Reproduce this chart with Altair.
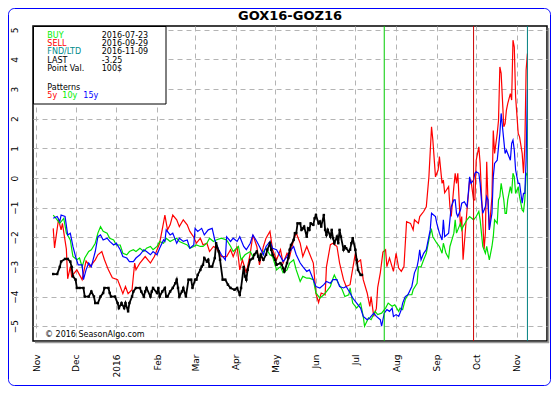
import altair as alt
import pandas as pd

# ---------------- data ----------------
TITLE = "GOX16-GOZ16"
SEASON_START = "2015-11-01"          # day 0 of the day offsets below
BUY_DATE = "2016-07-23"
SELL_DATE = "2016-09-29"
FND_DATE = "2016-11-09"
LAST_VALUE = "-3.25"
POINT_VALUE = "100$"
COPYRIGHT = "\u00a9 2016 SeasonAlgo.com"
MONTH_TICKS = ["2015-11-01", "2015-12-01", "2016-01-01", "2016-02-01", "2016-03-01",
               "2016-04-01", "2016-05-01", "2016-06-01", "2016-07-01", "2016-08-01",
               "2016-09-01", "2016-10-01", "2016-11-01"]
Y_TICKS = [-5, -4, -3, -2, -1, 0, 1, 2, 3, 4, 5]

RED_DAYS = [13, 14, 17, 19, 20, 23, 24, 26, 27, 31, 35, 36, 38, 41, 45, 47, 50, 52, 55, 58, 62, 64, 66, 68, 70, 73, 75, 76, 79, 83, 87, 90, 94, 97, 98, 100, 102, 104, 107, 109, 112, 115, 117, 120, 122, 125, 127, 130, 132, 135, 137, 141, 145, 148, 150, 153, 155, 157, 160, 163, 165, 168, 170, 173, 175, 178, 180, 183, 186, 188, 191, 193, 196, 198, 201, 203, 206, 208, 211, 213, 215, 217, 220, 221, 224, 226, 229, 231, 234, 236, 239, 240, 243, 244, 247, 249, 252, 254, 255, 257, 259, 260, 262, 264, 266, 267, 269, 272, 274, 276, 278, 280, 282, 285, 287, 288, 291, 292, 295, 297, 299, 301, 302, 304, 306, 307, 309, 310, 311, 314, 315, 316, 318, 319, 320, 321, 323, 324, 325, 326, 328, 330, 331, 333, 334, 335, 337, 338, 339, 341, 342, 343, 344, 345, 347, 348, 349, 351, 352, 353, 354, 356, 357, 358, 359, 361, 362, 363, 364, 365, 367, 368, 370, 371, 372, 373, 374]
RED_VALS = [-1.7, -2.36, -1.4, -1.75, -1.53, -2.4, -3.4, -3.0, -3.32, -3.1, -3.43, -3.21, -2.8, -2.99, -2.76, -2.59, -2.48, -2.76, -3.1, -3.37, -3.43, -3.66, -3.9, -3.66, -3.9, -3.77, -2.87, -3.1, -2.87, -2.65, -2.87, -2.65, -2.2, -1.5, -1.25, -1.75, -1.58, -1.25, -1.41, -1.64, -1.41, -1.58, -1.8, -2.0, -2.2, -2.03, -2.25, -2.2, -2.48, -2.31, -2.36, -2.65, -2.65, -2.42, -2.65, -2.31, -3.1, -2.76, -3.2, -2.54, -1.92, -2.31, -2.93, -2.31, -2.03, -1.8, -2.42, -2.76, -2.42, -2.87, -2.54, -2.65, -2.09, -1.86, -2.2, -2.65, -2.31, -2.54, -2.87, -3.9, -4.2, -3.88, -3.94, -3.0, -2.25, -2.2, -2.31, -2.87, -3.43, -3.66, -3.6, -3.32, -2.54, -2.87, -2.76, -3.43, -3.88, -4.33, -4.0, -4.67, -4.4, -3.7, -3.2, -2.5, -2.42, -2.99, -2.7, -3.15, -2.54, -3.04, -3.15, -2.99, -1.47, -1.53, -1.75, -1.41, -1.53, -1.3, -1.13, -0.97, 0.04, 1.73, 1.28, 0.04, 0.27, 0.72, -0.18, -0.07, -0.5, -0.29, -0.97, -1.3, -0.29, 0.16, -0.18, 0.16, -1.64, -1.3, -2.76, -2.2, -1.08, -0.07, -0.07, -0.74, -0.74, 0.6, 1.05, 0.49, -0.52, -2.4, -1.86, 0.55, -0.85, -1.75, -0.63, 1.6, 0.83, 1.5, 1.95, 3.75, 3.53, 1.73, 1.84, 2.29, 2.51, 2.85, 2.63, 4.65, 4.42, 2.74, 1.5, 1.39, 0.83, 0.16, 1.05, 3.64, 4.2]

GREEN_DAYS = [13, 16, 18, 21, 23, 26, 28, 31, 33, 35, 37, 40, 42, 45, 47, 49, 51, 54, 56, 59, 61, 64, 66, 69, 71, 74, 76, 79, 82, 84, 87, 89, 92, 94, 97, 99, 102, 104, 107, 109, 112, 115, 117, 120, 122, 125, 127, 130, 132, 135, 137, 141, 145, 148, 150, 154, 156, 159, 163, 165, 168, 170, 173, 175, 178, 180, 183, 186, 188, 191, 193, 196, 198, 201, 203, 206, 208, 211, 213, 216, 219, 221, 224, 226, 227, 230, 233, 235, 238, 239, 241, 244, 247, 249, 250, 253, 255, 258, 260, 263, 266, 268, 271, 273, 276, 277, 279, 281, 283, 286, 287, 290, 291, 293, 295, 297, 300, 301, 302, 305, 307, 309, 310, 312, 314, 315, 318, 319, 320, 321, 323, 324, 325, 328, 330, 333, 335, 337, 338, 339, 340, 342, 343, 344, 345, 347, 348, 349, 351, 352, 353, 354, 356, 357, 358, 359, 361, 362, 363, 364, 365, 367, 368, 370, 371, 372, 373, 374]
GREEN_VALS = [-1.25, -1.41, -1.53, -1.36, -1.86, -2.09, -2.65, -2.76, -2.7, -3.0, -2.7, -2.48, -2.42, -2.2, -1.86, -1.64, -1.8, -1.86, -2.03, -2.09, -2.26, -2.26, -2.54, -2.59, -2.48, -2.42, -2.48, -2.37, -2.48, -2.37, -2.31, -2.42, -2.31, -2.14, -2.2, -2.03, -2.14, -2.09, -2.03, -2.14, -2.2, -2.26, -2.37, -2.31, -2.26, -2.31, -2.31, -2.2, -2.03, -2.14, -2.09, -2.03, -2.09, -2.3, -2.48, -2.31, -2.76, -2.59, -2.48, -2.65, -2.48, -2.76, -2.48, -2.37, -2.59, -2.65, -3.1, -2.99, -3.2, -3.1, -2.87, -2.76, -3.1, -3.49, -3.32, -3.38, -3.38, -3.43, -3.88, -4.05, -3.94, -3.83, -3.66, -3.38, -3.27, -3.55, -3.77, -4.0, -3.94, -3.71, -4.22, -4.39, -4.22, -4.67, -5.0, -4.72, -4.78, -4.5, -4.61, -4.56, -4.39, -4.22, -4.33, -4.28, -4.5, -4.39, -4.44, -4.1, -3.94, -3.94, -3.77, -3.55, -3.0, -3.0, -2.76, -2.54, -1.86, -1.75, -1.98, -2.2, -2.31, -2.54, -2.2, -2.54, -2.7, -2.31, -1.86, -1.41, -1.86, -1.75, -1.53, -1.75, -1.64, -1.41, -1.3, -1.41, -1.3, -1.13, -1.41, -1.86, -2.31, -2.54, -2.31, -2.54, -2.76, -2.31, -1.98, -1.41, -1.53, -0.74, -0.63, -0.18, -0.74, -1.19, -1.19, -0.74, -0.29, -0.52, 0.16, 0.04, -0.52, -0.29, -0.63, -1.08, -1.13, -0.74, 0.16, 0.1]

BLUE_DAYS = [13, 16, 18, 19, 22, 24, 26, 28, 30, 32, 35, 36, 38, 40, 42, 45, 47, 49, 51, 54, 56, 59, 61, 64, 66, 69, 71, 74, 76, 79, 82, 84, 87, 89, 92, 94, 97, 98, 99, 102, 104, 107, 109, 112, 115, 117, 120, 121, 123, 126, 128, 131, 134, 136, 139, 141, 144, 145, 148, 150, 153, 155, 158, 160, 163, 165, 168, 170, 173, 175, 178, 180, 183, 186, 188, 191, 193, 196, 198, 201, 203, 206, 208, 211, 213, 216, 219, 221, 224, 226, 229, 231, 234, 236, 239, 241, 244, 247, 249, 252, 254, 257, 259, 262, 263, 265, 267, 269, 271, 272, 274, 276, 278, 279, 281, 283, 286, 287, 288, 290, 291, 292, 293, 295, 297, 300, 301, 304, 305, 307, 309, 310, 311, 314, 315, 316, 318, 319, 320, 321, 323, 324, 326, 328, 329, 330, 331, 333, 334, 335, 337, 338, 339, 340, 342, 343, 344, 345, 347, 348, 349, 351, 352, 353, 354, 356, 357, 358, 359, 361, 362, 363, 364, 365, 367, 368, 370, 371, 372, 373, 374]
BLUE_VALS = [-1.36, -1.3, -1.47, -1.25, -1.3, -1.92, -1.86, -2.31, -2.65, -2.93, -2.93, -3.43, -3.1, -2.87, -2.99, -2.48, -1.98, -1.92, -2.09, -2.03, -2.14, -2.26, -2.2, -2.42, -2.65, -2.7, -2.82, -2.82, -2.7, -2.59, -2.42, -2.48, -2.59, -2.48, -2.59, -2.37, -2.09, -2.14, -1.75, -1.92, -1.86, -2.2, -2.03, -2.14, -2.09, -2.37, -2.26, -1.7, -1.8, -1.7, -1.92, -1.75, -1.7, -2.09, -2.42, -2.59, -2.76, -1.98, -2.14, -2.03, -2.14, -1.98, -2.31, -2.42, -2.2, -1.92, -2.14, -2.31, -2.59, -2.31, -2.14, -2.37, -2.42, -2.65, -2.82, -2.65, -2.48, -2.31, -2.59, -2.87, -2.99, -3.15, -3.1, -3.43, -3.66, -3.71, -3.6, -3.49, -3.55, -3.43, -3.43, -3.66, -3.71, -3.66, -3.88, -4.05, -4.22, -4.39, -4.67, -4.78, -4.72, -4.56, -4.67, -4.78, -5.0, -4.56, -4.44, -4.5, -4.39, -4.67, -4.61, -4.67, -4.44, -4.22, -4.0, -3.94, -3.66, -3.43, -3.2, -2.99, -2.76, -2.42, -2.76, -2.54, -2.42, -1.75, -1.19, -1.3, -1.53, -1.86, -2.09, -1.41, -1.98, -1.86, -1.41, -0.97, -0.74, -0.74, -1.19, -1.3, -1.08, -0.85, -0.8, -0.97, -0.52, 0.04, -0.18, -0.07, 0.16, 0.21, 0.16, -0.18, -0.74, -1.19, -0.97, -0.63, -0.74, -1.75, -1.19, 0.04, 0.49, 0.6, 1.05, 1.5, 2.18, 1.28, 0.83, 0.94, 0.83, 0.6, 1.17, 1.28, 0.94, 0.27, -0.18, -0.18, -0.85, -0.52, -0.52, 0.6, 3.0]

BLACK_DAYS = [13, 16, 18, 19, 22, 24, 26, 27, 28, 30, 31, 33, 36, 37, 40, 42, 44, 45, 47, 49, 51, 52, 55, 56, 57, 60, 62, 63, 65, 67, 68, 70, 71, 73, 74, 76, 79, 80, 82, 83, 84, 87, 88, 89, 92, 93, 94, 96, 98, 99, 100, 102, 104, 106, 107, 108, 109, 111, 112, 114, 116, 118, 119, 121, 122, 123, 125, 126, 127, 128, 130, 131, 132, 134, 136, 137, 139, 140, 142, 144, 146, 148, 151, 153, 155, 156, 158, 159, 160, 161, 163, 165, 166, 168, 169, 170, 171, 173, 175, 176, 178, 179, 180, 182, 183, 186, 187, 188, 189, 191, 192, 193, 194, 196, 197, 198, 199, 201, 202, 203, 204, 206, 207, 208, 209, 211, 212, 213, 215, 216, 217, 219, 220, 221, 222, 224, 225, 226, 227, 229, 230, 231, 232, 234, 235, 236, 238, 239, 240, 241, 243, 244, 245, 247, 248]
BLACK_VALS = [-3.24, -3.24, -3.0, -2.82, -2.73, -2.73, -2.82, -3.0, -3.32, -3.43, -3.71, -3.71, -3.71, -4.0, -4.0, -3.83, -4.0, -4.22, -4.22, -4.0, -3.88, -3.71, -3.71, -3.88, -4.0, -4.0, -4.22, -4.39, -4.22, -4.39, -4.22, -4.5, -4.22, -4.0, -3.83, -3.71, -3.71, -3.83, -4.0, -3.83, -3.71, -4.0, -3.83, -3.71, -3.88, -3.71, -4.0, -3.83, -3.71, -4.0, -4.0, -3.83, -3.71, -3.55, -3.43, -3.71, -4.0, -3.83, -3.71, -4.0, -3.43, -3.43, -3.71, -3.43, -3.43, -3.27, -3.1, -2.99, -2.93, -2.7, -2.82, -2.76, -2.99, -2.99, -2.7, -2.2, -2.48, -2.76, -3.43, -3.43, -3.6, -3.71, -3.77, -3.71, -3.94, -3.71, -3.0, -3.32, -3.43, -3.1, -2.76, -2.71, -2.59, -2.48, -2.65, -2.76, -2.59, -2.76, -2.59, -2.42, -2.2, -2.42, -2.59, -2.76, -2.93, -2.87, -2.93, -3.04, -3.15, -2.87, -2.7, -2.42, -2.26, -2.09, -1.86, -1.86, -1.53, -1.53, -1.75, -1.7, -1.64, -1.98, -1.7, -1.75, -1.53, -1.58, -1.36, -1.25, -1.53, -1.47, -1.64, -1.25, -1.75, -1.92, -1.75, -1.98, -1.75, -2.03, -2.2, -1.98, -2.2, -1.75, -1.98, -2.42, -2.31, -2.37, -2.48, -2.42, -2.2, -2.03, -2.42, -2.76, -3.1, -3.27, -3.27]

# ---------------- build tables ----------------
def series_frame(days, vals):
    dates = pd.Timestamp(SEASON_START) + pd.to_timedelta(days, unit="D")
    return pd.DataFrame({"date": dates.strftime("%Y-%m-%d"), "value": vals})

red_df = series_frame(RED_DAYS, RED_VALS)
green_df = series_frame(GREEN_DAYS, GREEN_VALS)
blue_df = series_frame(BLUE_DAYS, BLUE_VALS)
black_df = series_frame(BLACK_DAYS, BLACK_VALS)
dummy = pd.DataFrame({"k": [0]})

W, H = 514, 315
PAD = {"left": 25, "top": 18, "right": 4, "bottom": 45}   # whole svg: 543 x 378
FONT = "DejaVu Sans"
GRID = "#b4b4b4"

def dt(s):
    t = pd.Timestamp(s)
    return alt.DateTime(year=t.year, month=t.month, date=t.day, hours=t.hour, minutes=t.minute, utc=True)

x_scale = alt.Scale(type="utc", domain=[dt("2015-10-29 14:24"), dt("2016-11-23 21:36")])
x_axis = alt.Axis(
    values=[dt(m) for m in MONTH_TICKS],
    labelExpr="utcFormat(datum.value, '%m') == '01' ? utcFormat(datum.value, '%Y') : utcFormat(datum.value, '%b')",
    labelAngle=270, labelAlign="right", labelBaseline="middle", labelPadding=13,
    ticks=False, tickSize=0, domain=False, grid=True, gridDash=[5, 4], gridColor=GRID,
    labelFont=FONT, labelFontSize=9, labelColor="black", labelOverlap=False, labelFlush=False,
    title=None,
)
y_scale = alt.Scale(domain=[-5.5, 5.13], nice=False, zero=False)
y_axis = alt.Axis(
    values=Y_TICKS, format="d", labelAngle=270, labelAlign="center", labelBaseline="middle",
    labelPadding=19, ticks=False, tickSize=0, domain=False, grid=True, gridDash=[5, 4],
    gridColor=GRID, labelFont=FONT, labelFontSize=9, labelColor="black", title=None,
)

X = alt.X("date:T", scale=x_scale, axis=x_axis)
Y = alt.Y("value:Q", scale=y_scale, axis=y_axis)

def line(df, color, width=1.2):
    return alt.Chart(df).mark_line(color=color, strokeWidth=width, clip=True).encode(x=X, y=Y)

red_line = line(red_df, "#ff0000")
green_line = line(green_df, "#00e000")
blue_line = line(blue_df, "#0000ff")
black_line = alt.Chart(black_df).mark_line(
    color="black", strokeWidth=1.8, clip=True,
    point=alt.OverlayMarkDef(shape="square", size=6, filled=True, color="black"),
).encode(x=X, y=Y)

def event_rule(date, color):
    return alt.Chart(pd.DataFrame({"date": [date]})).mark_rule(color=color, strokeWidth=1).encode(x=X)

rules = [event_rule(BUY_DATE, "#00cc00"), event_rule(SELL_DATE, "#cc0000"), event_rule(FND_DATE, "#008080")]

def txt(s, x, y, color="black", size=8, bold=False, align="left"):
    return alt.Chart(dummy).mark_text(
        text=s, align=align, baseline="alphabetic", font=FONT, fontSize=size,
        fontWeight="bold" if bold else "normal", color=color,
    ).encode(x=alt.value(x), y=alt.value(y))

legend_box = alt.Chart(dummy).mark_rect(fill="white", stroke="black", strokeWidth=1).encode(
    x=alt.value(0.5), x2=alt.value(133), y=alt.value(0.5), y2=alt.value(78))

LX, VX = 14.3, 68.7
legend_texts = [
    txt("BUY", LX, 11.7, "#00ee00"), txt(BUY_DATE, VX, 11.7),
    txt("SELL", LX, 19.9, "#ff0000"), txt(SELL_DATE, VX, 19.9),
    txt("FND/LTD", LX, 28.2, "#008b8b"), txt(FND_DATE, VX, 28.2),
    txt("LAST", LX, 36.5), txt(LAST_VALUE, VX, 36.5),
    txt("Point Val.", LX, 44.8), txt(POINT_VALUE, VX, 44.8),
    txt("Patterns", LX, 64),
    txt("5y", LX, 72.3, "#ff0000"), txt("10y", 29.3, 72.3, "#00ee00"), txt("15y", 50.3, 72.3, "#0000ff"),
]

title = txt(TITLE, W / 2, -6.3, "black", size=13, bold=True, align="center")
copyright_txt = txt(COPYRIGHT, 12, 310.5)

shadow_r = alt.Chart(dummy).mark_rule(color="#999999", strokeWidth=1.5).encode(
    x=alt.value(W + 1.5), y=alt.value(2), y2=alt.value(H + 2))
shadow_b = alt.Chart(dummy).mark_rule(color="#999999", strokeWidth=1.5).encode(
    x=alt.value(2), x2=alt.value(W + 2), y=alt.value(H + 1.5))
frame_right = W + PAD["right"] - 0.5
frame_bottom = H + PAD["bottom"] - 0.5
frame = alt.Chart(dummy).mark_rect(filled=False, color="#0000ff", strokeWidth=1, cornerRadius=6).encode(
    x=alt.value(-PAD["left"] + 0.5), x2=alt.value(frame_right),
    y=alt.value(-PAD["top"] + 0.5), y2=alt.value(frame_bottom))

chart = alt.layer(
    red_line, green_line, blue_line, *rules, black_line,
    legend_box, *legend_texts, title, copyright_txt, shadow_r, shadow_b, frame,
).properties(
    width=W, height=H,
    padding=PAD,
    autosize=alt.AutoSizeParams(type="none"),
    background="white",
).configure_view(stroke="black", strokeWidth=1.5)

chart.save("out.html", embed_options={"renderer": "svg", "actions": False})
